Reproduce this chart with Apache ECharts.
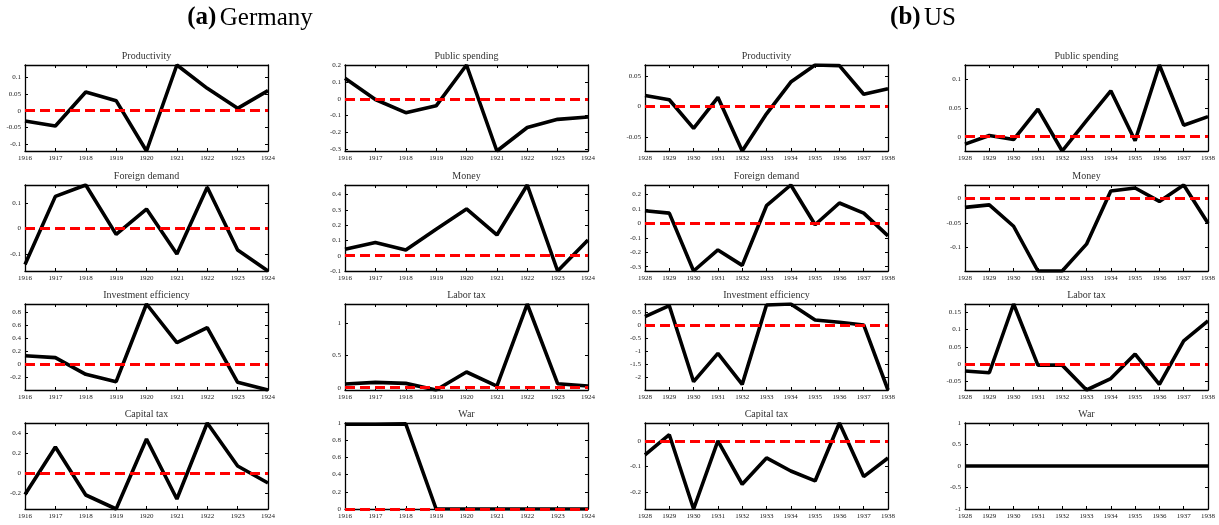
<!DOCTYPE html>
<html><head><meta charset="utf-8">
<script src="https://cdn.jsdelivr.net/npm/echarts@6/dist/echarts.min.js"></script>
<style>html,body{margin:0;padding:0;background:#fff}#c{width:1219px;height:525px}</style>
</head><body><div id="c"></div>
<script>
// ---------------- DATA ----------------
const yearsDE = ['1916','1917','1918','1919','1920','1921','1922','1923','1924'];
const yearsUS = ['1928','1929','1930','1931','1932','1933','1934','1935','1936','1937','1938'];
const panelTitles = ['Productivity','Public spending','Foreign demand','Money','Investment efficiency','Labor tax','Capital tax','War'];

const deProductivity   = [-0.031,-0.046,0.056,0.030,-0.121,0.137,0.067,0.007,0.060];
const dePublicSpending = [0.123,-0.004,-0.083,-0.042,0.203,-0.313,-0.172,-0.123,-0.109];
const deForeignDemand  = [-0.142,0.127,0.172,-0.023,0.077,-0.101,0.163,-0.085,-0.168];
const deMoney          = [0.042,0.086,0.037,0.174,0.306,0.136,0.463,-0.1,0.103];
const deInvestEff      = [0.133,0.103,-0.154,-0.267,0.928,0.333,0.564,-0.277,-0.395];
const deLaborTax       = [0.057,0.082,0.067,-0.035,0.242,0.026,1.289,0.062,0.026];
const deCapitalTax     = [-0.21,0.265,-0.215,-0.355,0.345,-0.255,0.505,0.075,-0.095];
const deWar            = [0.985,0.985,0.99,0,0,0,0,0,0];

const usProductivity   = [0.018,0.011,-0.036,0.015,-0.073,-0.012,0.040,0.068,0.067,0.020,0.029];
const usPublicSpending = [-0.013,0.002,-0.005,0.048,-0.025,0.028,0.080,-0.007,0.125,0.020,0.035];
const usForeignDemand  = [0.088,0.072,-0.33,-0.184,-0.291,0.123,0.267,-0.009,0.142,0.072,-0.086];
const usMoney          = [-0.019,-0.014,-0.057,-0.147,-0.147,-0.093,0.014,0.020,-0.007,0.026,-0.051];
const usInvestEff      = [0.33,0.75,-2.156,-1.07,-2.258,0.778,0.816,0.204,0.115,0.013,-2.474];
const usLaborTax       = [-0.020,-0.025,0.174,-0.003,-0.003,-0.075,-0.042,0.029,-0.059,0.067,0.125];
const usCapitalTax     = [-0.055,0.024,-0.267,0.0,-0.17,-0.067,-0.118,-0.157,0.07,-0.14,-0.067];
const usWar            = [0,0,0,0,0,0,0,0,0,0,0];

// tick steps of the y axes
const deTickSteps = [0.05,0.1,0.1,0.1,0.2,0.5,0.2,0.2];
const usTickSteps = [0.05,0.05,0.1,0.05,0.5,0.05,0.1,0.5];
// fixed y ranges (where the axis is not tight to the data)
const deWarRange = [0,1];
const usWarRange = [-1,1];

// ---------------- LAYOUT ----------------
const FONT = '"Liberation Serif","DejaVu Serif",serif';
const colLeft = [25,345,645,965];
const colWidth = 243;
const rowTop = [65,185,304,423];
const rowHeight = 86;

const deData = [deProductivity,dePublicSpending,deForeignDemand,deMoney,deInvestEff,deLaborTax,deCapitalTax,deWar];
const usData = [usProductivity,usPublicSpending,usForeignDemand,usMoney,usInvestEff,usLaborTax,usCapitalTax,usWar];

const panels = [];
for (let k=0;k<8;k++){
  panels.push({years:yearsDE, data:deData[k], title:panelTitles[k], step:deTickSteps[k],
    col:k%2, row:Math.floor(k/2), range: k===7?deWarRange:null, zero:true});
}
for (let k=0;k<8;k++){
  panels.push({years:yearsUS, data:usData[k], title:panelTitles[k], step:usTickSteps[k],
    col:2+k%2, row:Math.floor(k/2), range: k===7?usWarRange:null, zero:k!==7});
}

const grids=[], xAxes=[], yAxes=[], series=[];
const axisLineStyle = {show:true, onZero:false, lineStyle:{color:'#000', width:1.3}};
const tickStyle = {show:true, inside:true, length:3, lineStyle:{color:'#000', width:1}};

panels.forEach((p,g)=>{
  const left = colLeft[p.col], top = rowTop[p.row];
  grids.push({left:left, top:top, width:colWidth, height:rowHeight, show:false, containLabel:false});
  let mn = Math.min(...p.data), mx = Math.max(...p.data);
  if (p.range){ mn = p.range[0]; mx = p.range[1]; }
  const step = p.step;
  const nice = v => Math.abs(v/step - Math.round(v/step)) < 1e-6;
  const fmt = v => nice(v) ? String(parseFloat((+v).toFixed(4))) : '';
  xAxes.push({type:'category', gridIndex:g, data:p.years, boundaryGap:false, position:'bottom',
    axisLine:axisLineStyle, axisTick:Object.assign({alignWithLabel:true, interval:0}, tickStyle),
    axisLabel:{show:true, interval:0, fontSize:7, fontFamily:FONT, color:'#222', margin:4},
    splitLine:{show:false}});
  xAxes.push({type:'category', gridIndex:g, data:p.years, boundaryGap:false, position:'top',
    axisLine:axisLineStyle, axisTick:Object.assign({interval:0}, tickStyle),
    axisLabel:{show:false}, splitLine:{show:false}});
  const yBase = {type:'value', gridIndex:g, min:mn, max:mx, splitNumber:(mx-mn)/step,
    axisLine:axisLineStyle, axisTick:tickStyle, splitLine:{show:false}};
  yAxes.push(Object.assign({}, yBase, {position:'left',
    axisLabel:{show:true, fontSize:7, fontFamily:FONT, color:'#222', margin:4, formatter:fmt,
      showMinLabel:true, showMaxLabel:true}}));
  yAxes.push(Object.assign({}, yBase, {position:'right', axisLabel:{show:false}}));
  const s = {type:'line', xAxisIndex:2*g, yAxisIndex:2*g, data:p.data, symbol:'none',
    lineStyle:{color:'#000', width:3.6}, z:3, animation:false};
  if (p.zero){
    s.markLine = {silent:true, symbol:['none','none'], label:{show:false}, animation:false,
      lineStyle:{color:'#ff0000', width:3, type:[10,5], opacity:1}, emphasis:{disabled:true},
      data:[{yAxis:0}]};
  }
  series.push(s);
});

// centred panel titles
const graphics = panels.map(p=>({type:'text', x:colLeft[p.col]+colWidth/2, y:rowTop[p.row]-9,
  style:{text:p.title, fill:'#333', font:'10px '+FONT, align:'center', verticalAlign:'middle',
         textAlign:'center', textVerticalAlign:'middle'}}));

const bigRich = {b:{fontSize:25, fontWeight:'bold', fontFamily:FONT, fill:'#000'},
                 n:{fontSize:25, fontFamily:FONT, fill:'#000'}};
graphics.push({type:'text', x:250, y:18, style:{
  text:'{b|(a)} {n|Germany}', fill:'#000', align:'center', verticalAlign:'middle',
  textAlign:'center', textVerticalAlign:'middle', rich:bigRich}});
graphics.push({type:'text', x:923, y:18, style:{
  text:'{b|(b)} {n|US}', fill:'#000', align:'center', verticalAlign:'middle',
  textAlign:'center', textVerticalAlign:'middle', rich:bigRich}});

const chart = echarts.init(document.getElementById('c'), null, {renderer:'canvas'});
chart.setOption({
  animation:false,
  backgroundColor:'#fff',
  grid:grids, xAxis:xAxes, yAxis:yAxes, series:series,
  graphic:graphics
});
</script></body></html>
